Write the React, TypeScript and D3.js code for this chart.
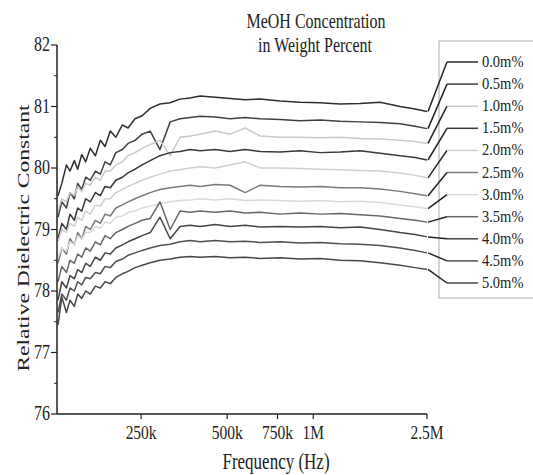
import React from 'react';
import * as d3 from 'd3';

// frequency grid (Hz)
const freqs = [
  128e3, 132e3, 137e3, 141e3, 146e3, 150e3, 155e3, 160e3, 166e3, 173e3, 180e3, 187e3, 195e3,
  204e3, 215e3, 225e3, 238e3, 252e3, 269e3, 291e3, 316e3, 342e3, 371e3, 402e3, 454e3, 512e3,
  578e3, 652e3, 765e3, 899e3, 1057e3, 1241e3, 1458e3, 1713e3, 2012e3, 2270e3, 2500e3,
];

const c00 = [79.55, 79.75, 80.05, 79.95, 80.12, 79.98, 80.22, 80.1, 80.32, 80.2, 80.45, 80.35, 80.6, 80.5, 80.7, 80.65, 80.8, 80.85, 80.97, 81.04, 81.06, 81.12, 81.14, 81.17, 81.15, 81.13, 81.11, 81.12, 81.09, 81.07, 81.06, 81.04, 81.05, 81.07, 81.0, 80.96, 80.92];
const c05 = [79.2, 79.45, 79.35, 79.6, 79.5, 79.75, 79.65, 79.85, 79.8, 79.95, 79.9, 80.1, 80.05, 80.25, 80.3, 80.4, 80.45, 80.55, 80.6, 80.3, 80.75, 80.8, 80.82, 80.84, 80.83, 80.8, 80.82, 80.8, 80.79, 80.77, 80.78, 80.76, 80.75, 80.74, 80.72, 80.68, 80.64];
const c10 = [79.3, 79.5, 79.45, 79.6, 79.55, 79.7, 79.62, 79.75, 79.72, 79.85, 79.8, 79.95, 79.95, 80.05, 80.1, 80.2, 80.25, 80.32, 80.38, 80.45, 80.2, 80.5, 80.52, 80.55, 80.6, 80.55, 80.65, 80.52, 80.5, 80.5, 80.49, 80.5, 80.48, 80.47, 80.45, 80.43, 80.4];
const c15 = [78.85, 79.1, 79.0, 79.25, 79.15, 79.35, 79.3, 79.5, 79.45, 79.6, 79.55, 79.7, 79.68, 79.8, 79.85, 79.92, 79.98, 80.05, 80.12, 80.2, 80.25, 80.27, 80.3, 80.28, 80.3, 80.27, 80.3, 80.27, 80.26, 80.28, 80.25, 80.26, 80.28, 80.24, 80.2, 80.17, 80.13];
const c20 = [78.8, 79.0, 78.95, 79.1, 79.05, 79.2, 79.15, 79.3, 79.25, 79.4, 79.38, 79.5, 79.5, 79.6, 79.65, 79.7, 79.75, 79.8, 79.85, 79.9, 79.95, 79.97, 80.0, 80.02, 80.0, 80.05, 80.1, 80.0, 80.0, 79.99, 79.98, 79.97, 79.96, 79.95, 79.92, 79.88, 79.84];
const c25 = [78.45, 78.7, 78.6, 78.85, 78.75, 78.95, 78.85, 79.05, 79.0, 79.15, 79.1, 79.25, 79.22, 79.35, 79.4, 79.45, 79.5, 79.55, 79.6, 79.65, 79.68, 79.7, 79.72, 79.7, 79.73, 79.72, 79.6, 79.72, 79.7, 79.69, 79.7, 79.68, 79.68, 79.66, 79.62, 79.58, 79.55];
const c30 = [78.55, 78.7, 78.65, 78.8, 78.75, 78.9, 78.85, 78.95, 78.95, 79.05, 79.02, 79.12, 79.1, 79.2, 79.22, 79.28, 79.3, 79.35, 79.38, 79.42, 79.45, 79.47, 79.48, 79.5, 79.48, 79.5, 79.47, 79.48, 79.47, 79.46, 79.47, 79.45, 79.46, 79.44, 79.4, 79.37, 79.34];
const c35 = [78.15, 78.4, 78.3, 78.5, 78.45, 78.6, 78.55, 78.7, 78.65, 78.8, 78.75, 78.9, 78.85, 78.95, 79.0, 79.05, 79.1, 79.15, 79.18, 79.45, 79.0, 79.3, 79.28, 79.3, 79.28, 79.3, 79.27, 79.28, 79.25, 79.27, 79.25, 79.26, 79.24, 79.22, 79.18, 79.15, 79.12];
const c40 = [77.85, 78.15, 78.05, 78.25, 78.2, 78.35, 78.3, 78.45, 78.4, 78.55, 78.5, 78.62, 78.6, 78.7, 78.75, 78.8, 78.85, 78.9, 78.95, 79.2, 78.85, 79.05, 79.07, 79.05, 79.08, 79.05, 79.07, 79.04, 79.05, 79.04, 79.05, 79.03, 79.04, 79.0, 78.95, 78.92, 78.88];
const c45 = [77.65, 77.95, 77.85, 78.05, 78.0, 78.15, 78.1, 78.22, 78.2, 78.3, 78.28, 78.4, 78.38, 78.48, 78.52, 78.58, 78.62, 78.66, 78.7, 78.74, 78.76, 78.8, 78.82, 78.8, 78.82, 78.8, 78.81, 78.79, 78.8, 78.78, 78.79, 78.77, 78.76, 78.74, 78.7, 78.66, 78.62];
const c50 = [77.45, 77.9, 77.65, 77.85, 77.75, 77.95, 77.88, 78.0, 77.95, 78.08, 78.05, 78.15, 78.12, 78.22, 78.28, 78.32, 78.38, 78.42, 78.46, 78.5, 78.52, 78.55, 78.56, 78.55, 78.56, 78.54, 78.55, 78.53, 78.54, 78.52, 78.53, 78.5, 78.49, 78.46, 78.42, 78.38, 78.35];

const seriesValues = [c00, c05, c10, c15, c20, c25, c30, c35, c40, c45, c50];
const seriesLabels = ['0.0m%', '0.5m%', '1.0m%', '1.5m%', '2.0m%', '2.5m%', '3.0m%', '3.5m%', '4.0m%', '4.5m%', '5.0m%'];
const seriesColors = ['#2e2e2e', '#404040', '#c8c8c8', '#383838', '#cfcfcf', '#7a7a7a', '#dadada', '#676767', '#444444', '#505050', '#474747'];

const xTickValues = [250e3, 500e3, 750e3, 1e6, 2.5e6];
const xTickLabels = ['250k', '500k', '750k', '1M', '2.5M'];
const yTicks = [76, 77, 78, 79, 80, 81, 82];

const font = '"Liberation Serif", "DejaVu Serif", serif';
const ink = '#222';

const App = () => {
  const width = 533;
  const height = 475;
  const left = 57;
  const right = 427;
  const top = 45;
  const bottom = 414;

  const x = d3.scaleLog().domain([128e3, 2.5e6]).range([left + 1, right]);
  const y = d3.scaleLinear().domain([76, 82]).range([bottom, top]);
  const line = d3
    .line<number>()
    .x((_, i) => x(freqs[i]))
    .y((d) => y(d));

  const minorY = d3.range(76.5, 82, 1);
  const legendY = (i: number) => 62 + i * 22.1;

  // stretched text helper (source picture is vertically stretched)
  const sText = (tx: number, ty: number, s: number, size: number, anchor: string, str: string) => (
    <text
      transform={`translate(${tx},${ty}) scale(1,${s})`}
      fontSize={size}
      fontFamily={font}
      fill={ink}
      textAnchor={anchor}
    >
      {str}
    </text>
  );

  return (
    <svg width={width} height={height} style={{ position: 'absolute', left: 0, top: 0, background: '#fff' }}>
      {/* title */}
      {sText(316, 28, 1.3, 16, 'middle', 'MeOH Concentration')}
      {sText(315, 52, 1.3, 16, 'middle', 'in Weight Percent')}

      {/* lines */}
      {seriesValues.map((vals, i) => (
        <path key={seriesLabels[i]} d={line(vals) || ''} fill='none' stroke={seriesColors[i]} strokeWidth={1.5} strokeLinejoin='round' />
      ))}

      {/* axes */}
      <line x1={left} x2={left} y1={top} y2={bottom} stroke={ink} strokeWidth={1.5} />
      <line x1={left} x2={right} y1={bottom} y2={bottom} stroke={ink} strokeWidth={1.5} />
      {yTicks.map((t) => (
        <g key={t}>
          <line x1={left - 6} x2={left} y1={y(t)} y2={y(t)} stroke={ink} strokeWidth={1.2} />
          {sText(50, y(t) + 6, 1.3, 16, 'end', String(t))}
        </g>
      ))}
      {minorY.map((t) => (
        <line key={t} x1={left - 3} x2={left} y1={y(t)} y2={y(t)} stroke={ink} strokeWidth={1} />
      ))}
      {xTickValues.map((t, i) => (
        <g key={t}>
          <line x1={x(t)} x2={x(t)} y1={bottom} y2={bottom + 5} stroke={ink} strokeWidth={1.2} />
          {sText(x(t), 439, 1.2, 15.5, 'middle', xTickLabels[i])}
        </g>
      ))}
      {sText(276, 469, 1.3, 17, 'middle', 'Frequency (Hz)')}
      <text
        transform='translate(29,238) rotate(-90) scale(1.35,1)'
        fontSize={17.5}
        fontFamily={font}
        fill={ink}
        textAnchor='middle'
      >
        Relative Dielectric Constant
      </text>

      {/* legend */}
      <rect x={439} y={41} width={110} height={257} fill='none' stroke='#aaa' strokeWidth={1} />
      {seriesValues.map((vals, i) => {
        const ey = y(vals[vals.length - 1]);
        const ly = legendY(i);
        return (
          <g key={seriesLabels[i]}>
            <line x1={right + 1} y1={ey} x2={447} y2={ly} stroke='#222' strokeWidth={1.5} />
            <line x1={447} y1={ly} x2={478} y2={ly} stroke={seriesColors[i]} strokeWidth={1.5} />
            {sText(482, ly + 5, 1.1, 14.5, 'start', seriesLabels[i])}
          </g>
        );
      })}
    </svg>
  );
};

export default App;
